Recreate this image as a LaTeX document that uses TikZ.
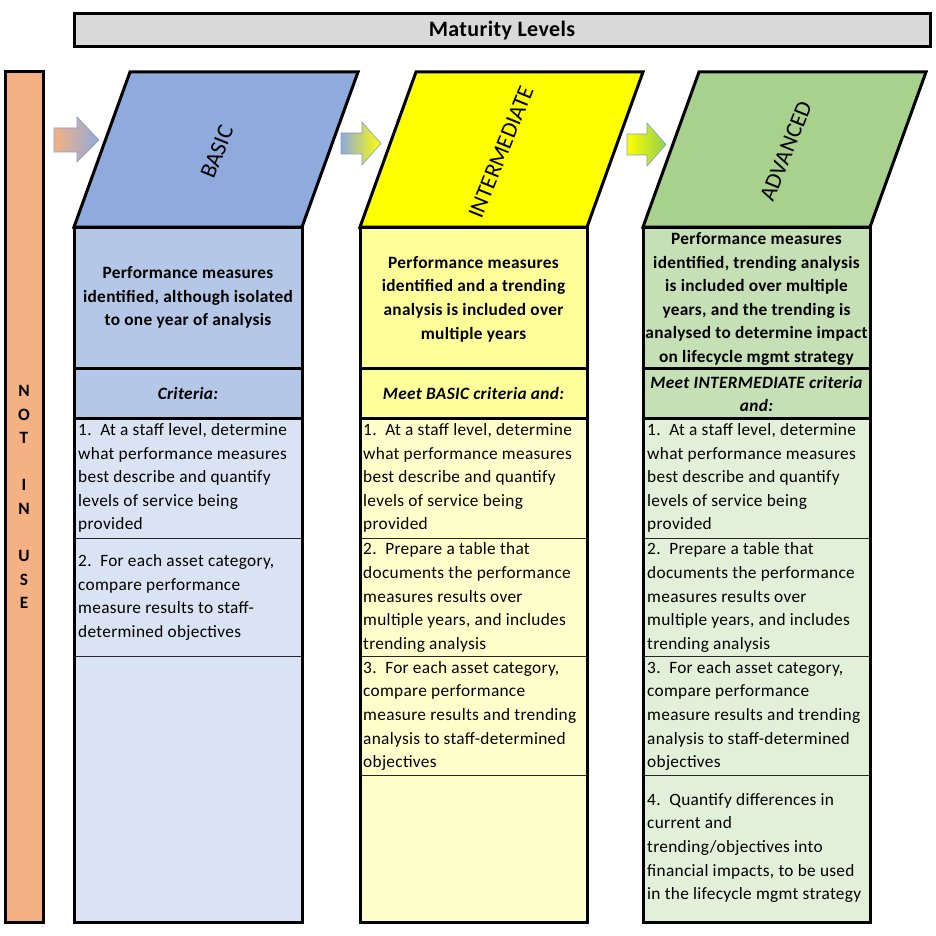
\documentclass[tikz,border=0pt]{standalone}
\usepackage{fontspec}
\setmainfont{Carlito}[LetterSpace=1.8]
\newfontfamily\lblfont{Carlito}
\definecolor{hdrgray}{HTML}{D9D9D9}
\definecolor{orangebar}{HTML}{F4B183}
\definecolor{basicP}{HTML}{8FAADC}
\definecolor{basicA}{HTML}{B4C7E7}
\definecolor{basicB}{HTML}{DAE3F3}
\definecolor{interP}{HTML}{FFFF00}
\definecolor{interA}{HTML}{FFFF99}
\definecolor{interB}{HTML}{FFFFCC}
\definecolor{advP}{HTML}{A9D18E}
\definecolor{advA}{HTML}{C5E0B4}
\definecolor{advB}{HTML}{E2F0D9}
\definecolor{arrowgreen}{HTML}{92D050}
\definecolor{arrowedge}{HTML}{7F9CCF}
\newcommand{\nsp}{\hspace{0.5em}}
\begin{document}
\begin{tikzpicture}[x=1pt,y=-1pt,line join=miter]
\tikzset{
  heavy/.style={line width=3pt},
  thinline/.style={line width=0.8pt, draw=black!85},
  body/.style={font=\fontsize{17.3}{23.6}\selectfont, inner sep=0pt, align=left, anchor=west},
  headtxt/.style={font=\fontsize{17.3}{23.6}\selectfont\bfseries, inner sep=0pt, align=center},
  crit/.style={font=\fontsize{17.3}{23.6}\selectfont\bfseries\itshape, inner sep=0pt, align=center},
  lvl/.style={font=\lblfont\fontsize{23}{26}\selectfont, inner sep=0pt, rotate=68},
  blockarrow/.style={draw=arrowedge, line width=0.6pt},
}
\useasboundingbox (0,0) rectangle (936,936);

% header
\draw[fill=hdrgray, heavy] (74,14) rectangle (930,47);
\node[font=\fontsize{22}{26}\selectfont\bfseries, inner sep=0pt] (title) at (502,31) {Maturity Levels};

% not in use bar
\draw[fill=orangebar, heavy] (5,72) rectangle (43,922);
\node[font=\fontsize{17.3}{23.6}\selectfont\bfseries, align=center, inner sep=0pt] (notinuse) at (24,497)
  {N\\O\\T\\\mbox{}\\I\\N\\\mbox{}\\U\\S\\E};

% arrows
\shadedraw[blockarrow, left color=orangebar, right color=basicP]
  (54,128) -- (77,128) -- (77,117) -- (99,140) -- (77,162) -- (77,152) -- (54,152) -- cycle;
\shadedraw[blockarrow, left color=basicP, right color=interP]
  (341,133) -- (362,133) -- (362,122) -- (381,143.5) -- (362,165) -- (362,154) -- (341,154) -- cycle;
\shadedraw[blockarrow, left color=interP, right color=arrowgreen]
  (627,134) -- (647,134) -- (647,123) -- (666,144.5) -- (647,166) -- (647,155) -- (627,155) -- cycle;

% ---------- BASIC column ----------
\fill[basicA] (74,227) rectangle (302,418);
\fill[basicB] (74,418) rectangle (302,922);
\draw[thinline] (74,538) -- (302,538) (74,656) -- (302,656);
\draw[heavy] (74,368) -- (302,368) (74,418) -- (302,418);
\draw[heavy] (74,227) rectangle (302,922);
\draw[fill=basicP, heavy] (74,227) -- (130,72) -- (358,72) -- (302,227) -- cycle;
\node[lvl] (basiclbl) at (217,152) {BASIC};
\node[headtxt] (b1) at (188,297.5) {Performance measures\\identified, although isolated\\to one year of analysis};
\node[crit] (b2) at (188,393) {Criteria:};
\node[body] (b3) at (78,478) {1.\nsp At a staff level, determine\\what performance measures\\best describe and quantify\\levels of service being\\provided};
\node[body] (b4) at (78,597.5) {2.\nsp For each asset category,\\compare performance\\measure results to staff-\\determined objectives};

% ---------- INTERMEDIATE column ----------
\fill[interA] (360,227) rectangle (587,418);
\fill[interB] (360,418) rectangle (587,922);
\draw[thinline] (360,538) -- (587,538) (360,656) -- (587,656) (360,775) -- (587,775);
\draw[heavy] (360,368) -- (587,368) (360,418) -- (587,418);
\draw[heavy] (360,227) rectangle (587,922);
\draw[fill=interP, heavy] (360,227) -- (416,72) -- (643,72) -- (587,227) -- cycle;
\node[lvl] (interlbl) at (501,152) {INTERMEDIATE};
\node[headtxt] (i1) at (473.5,299) {Performance measures\\identified and a trending\\analysis is included over\\multiple years};
\node[crit] (i2) at (473.5,393) {Meet BASIC criteria and:};
\node[body] (i3) at (363,478) {1.\nsp At a staff level, determine\\what performance measures\\best describe and quantify\\levels of service being\\provided};
\node[body] (i4) at (363,597.5) {2.\nsp Prepare a table that\\documents the performance\\measures results over\\multiple years, and includes\\trending analysis};
\node[body] (i5) at (363,716) {3.\nsp For each asset category,\\compare performance\\measure results and trending\\analysis to staff-determined\\objectives};

% ---------- ADVANCED column ----------
\fill[advA] (643,227) rectangle (870,418);
\fill[advB] (643,418) rectangle (870,922);
\draw[thinline] (643,538) -- (870,538) (643,656) -- (870,656) (643,775) -- (870,775);
\draw[heavy] (643,368) -- (870,368) (643,418) -- (870,418);
\draw[heavy] (643,227) rectangle (870,922);
\draw[fill=advP, heavy] (643,227) -- (699,72) -- (926,72) -- (870,227) -- cycle;
\node[lvl] (advlbl) at (786,151) {ADVANCED};
\node[headtxt] (a1) at (756.5,299) {Performance measures\\identified, trending analysis\\is included over multiple\\years, and the trending is\\analysed to determine impact\\on lifecycle mgmt strategy};
\node[crit] (a2) at (756.5,394) {Meet INTERMEDIATE criteria\\and:};
\node[body] (a3) at (647,478) {1.\nsp At a staff level, determine\\what performance measures\\best describe and quantify\\levels of service being\\provided};
\node[body] (a4) at (647,597.5) {2.\nsp Prepare a table that\\documents the performance\\measures results over\\multiple years, and includes\\trending analysis};
\node[body] (a5) at (647,716) {3.\nsp For each asset category,\\compare performance\\measure results and trending\\analysis to staff-determined\\objectives};
\node[body] (a6) at (647,848) {4.\nsp Quantify differences in\\current and\\trending/objectives into\\financial impacts, to be used\\in the lifecycle mgmt strategy};
\end{tikzpicture}
\end{document}
